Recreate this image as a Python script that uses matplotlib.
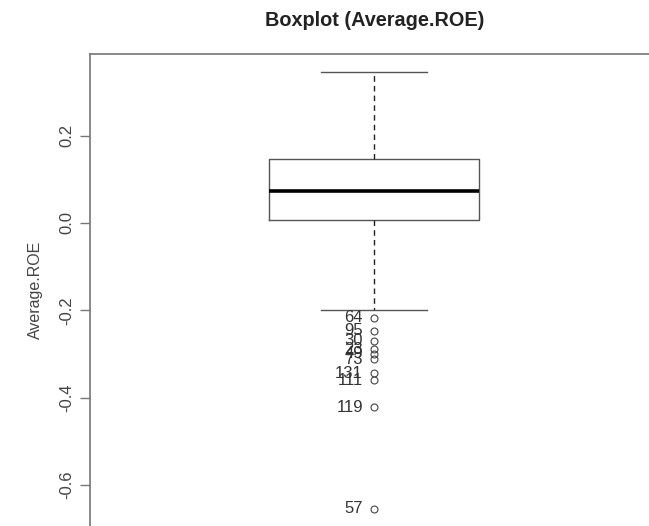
import matplotlib
matplotlib.use("Agg")
import matplotlib.pyplot as plt

plt.rcParams['font.family'] = ['Liberation Sans', 'DejaVu Sans']

# summary values of Average.ROE
q1 = 0.007
median = 0.073
q3 = 0.147
whisker_low = -0.199
whisker_high = 0.346

outlier_ids = ["64", "95", "30", "23", "49", "73", "131", "111", "119", "57"]
outlier_vals = [-0.217, -0.247, -0.270, -0.289, -0.300, -0.312, -0.344, -0.360, -0.422, -0.654]

y_ticks = [0.2, 0.0, -0.2, -0.4, -0.6]


def main():
    fig = plt.figure(figsize=(6.49, 5.26), dpi=100)
    # the frame runs past the right and bottom edges, like the cropped original
    ax = fig.add_axes([90 / 649, 0.0, 568 / 649, 1 - 54 / 526])

    stats = [{
        "med": median, "q1": q1, "q3": q3,
        "whislo": whisker_low, "whishi": whisker_high,
        "fliers": outlier_vals,
    }]
    ax.bxp(stats, positions=[1], widths=0.8,
           boxprops=dict(color="#555555", linewidth=1.0),
           medianprops=dict(color="black", linewidth=2.6),
           whiskerprops=dict(color="#222222", linewidth=1.0, linestyle=(0, (4, 3))),
           capprops=dict(color="#555555", linewidth=1.0),
           flierprops=dict(marker="o", markerfacecolor="none",
                           markeredgecolor="#444444", markersize=5,
                           markeredgewidth=0.8),
           capwidths=0.4)

    for lab, v in zip(outlier_ids, outlier_vals):
        ax.annotate(lab, xy=(1, v), xytext=(-8, 0), textcoords="offset points",
                    ha="right", va="center", fontsize=12, color="#333333")

    ax.set_xlim(-0.077, 2.077)
    ax.set_ylim(-0.694, 0.387)
    ax.set_xticks([])
    ax.set_yticks(y_ticks)
    ax.set_yticklabels(["0.2", "0.0", "-0.2", "-0.4", "-0.6"],
                       rotation=90, va="center", fontsize=12, color="#444444")
    ax.tick_params(axis="y", length=7, width=1, color="#777777", pad=4)
    ax.spines["bottom"].set_visible(False)
    ax.spines["right"].set_visible(False)
    for s in ("left", "top"):
        ax.spines[s].set_color("#777777")
        ax.spines[s].set_linewidth(1.2)

    ax.set_ylabel("Average.ROE", fontsize=11.5, color="#444444", labelpad=12)
    fig.text(375 / 649, 1 - 20 / 526, "Boxplot (Average.ROE)", ha="center",
             va="center", fontsize=14.3, fontweight="bold", color="#222222")

    fig.savefig("out.png", dpi=100)


if __name__ == "__main__":
    main()
